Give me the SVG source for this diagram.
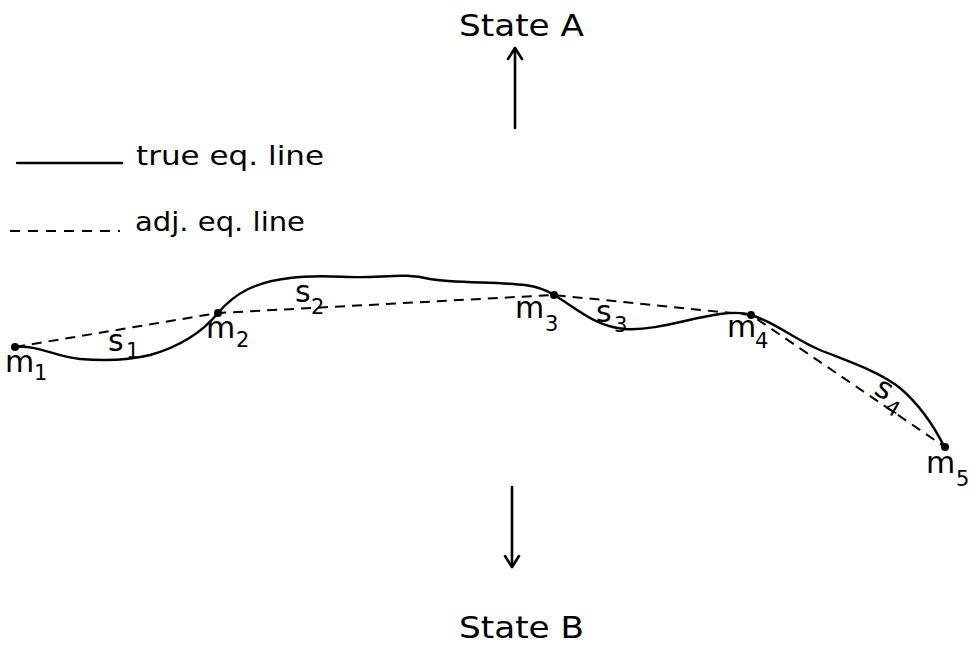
<svg xmlns="http://www.w3.org/2000/svg" width="979" height="645" viewBox="0 0 979 645">
<style>
  .lbl { font-family: "DejaVu Sans", "Liberation Sans", sans-serif; font-size: 30px; fill: #000; }
  .sub { font-family: "DejaVu Sans", "Liberation Sans", sans-serif; font-size: 21px; fill: #000; }
  .big { font-family: "DejaVu Sans", "Liberation Sans", sans-serif; font-size: 30px; fill: #000; }
  .leg { font-family: "DejaVu Sans", "Liberation Sans", sans-serif; font-size: 27px; fill: #000; }
  .solid { fill: none; stroke: #000; stroke-width: 2.4; stroke-linecap: round; stroke-linejoin: round; }
  .dash { fill: none; stroke: #000; stroke-width: 2; stroke-dasharray: 10 7; }
  .arrow { fill: none; stroke: #000; stroke-width: 2.6; stroke-linecap: round; stroke-linejoin: round; }
  .dot { fill: #000; }
</style>
<rect width="979" height="645" fill="#fff"/>

<g id="stateA">
  <text class="big" x="459" y="36" textLength="125" lengthAdjust="spacingAndGlyphs">State A</text>
</g>
<g id="stateB">
  <text class="big" x="459" y="638" textLength="125" lengthAdjust="spacingAndGlyphs">State B</text>
</g>

<g id="legend">
  <line class="solid" x1="17" y1="163" x2="122" y2="163"/>
  <text class="leg" x="136" y="165" textLength="188" lengthAdjust="spacingAndGlyphs">true eq. line</text>
  <line class="dash" x1="10" y1="231" x2="120" y2="231" style="stroke-dasharray:10 8"/>
  <text class="leg" x="135" y="231" textLength="170" lengthAdjust="spacingAndGlyphs">adj. eq. line</text>
</g>

<g id="connectors">
  <path id="true-line" class="solid" d="M15,347 C40,345 55,357 80,359 C105,361 130,360 150,355 C175,348 200,335 218,313 C235,293 255,282 290,278 C320,274 345,278 370,277 C395,276 410,274 430,279 C450,283 500,282 525,285 C540,287 548,291 554,295 C575,307 595,327 625,329 C655,331 690,318 720,314 C735,312 745,313 751,315 C775,322 795,340 820,350 C850,362 880,372 900,388 C920,405 935,428 945,448"/>
  <polyline id="adj-line" class="dash" points="15,347 218,313 554,295 751,315 945,447"/>
  <g id="arrow-up">
    <line class="arrow" x1="515" y1="128" x2="515" y2="48"/>
    <polyline class="arrow" points="508,59 515,48 522,59"/>
  </g>
  <g id="arrow-down">
    <line class="arrow" x1="512" y1="487" x2="512" y2="567"/>
    <polyline class="arrow" points="505,556 512,567 519,556"/>
  </g>
</g>

<g id="m1">
  <circle class="dot" cx="15" cy="347" r="4"/>
  <text class="lbl" x="5" y="372">m</text><text class="sub" x="34" y="380">1</text>
</g>
<g id="m2">
  <circle class="dot" cx="218" cy="313" r="4"/>
  <text class="lbl" x="206" y="338">m</text><text class="sub" x="236" y="347">2</text>
</g>
<g id="m3">
  <circle class="dot" cx="554" cy="295" r="4"/>
  <text class="lbl" x="515" y="318">m</text><text class="sub" x="545" y="331">3</text>
</g>
<g id="m4">
  <circle class="dot" cx="751" cy="315" r="4"/>
  <text class="lbl" x="727" y="337">m</text><text class="sub" x="755" y="348">4</text>
</g>
<g id="m5">
  <circle class="dot" cx="945" cy="447" r="4"/>
  <text class="lbl" x="926" y="473">m</text><text class="sub" x="956" y="486">5</text>
</g>

<g id="s1">
  <text class="lbl" x="108" y="351">s</text><text class="sub" x="126" y="358">1</text>
</g>
<g id="s2">
  <text class="lbl" x="295" y="302">s</text><text class="sub" x="311" y="314">2</text>
</g>
<g id="s3">
  <text class="lbl" x="596" y="322">s</text><text class="sub" x="614" y="332">3</text>
</g>
<g id="s4" transform="rotate(30 885 398)">
  <text class="lbl" x="872" y="400">s</text><text class="sub" x="890" y="410">4</text>
</g>
</svg>
